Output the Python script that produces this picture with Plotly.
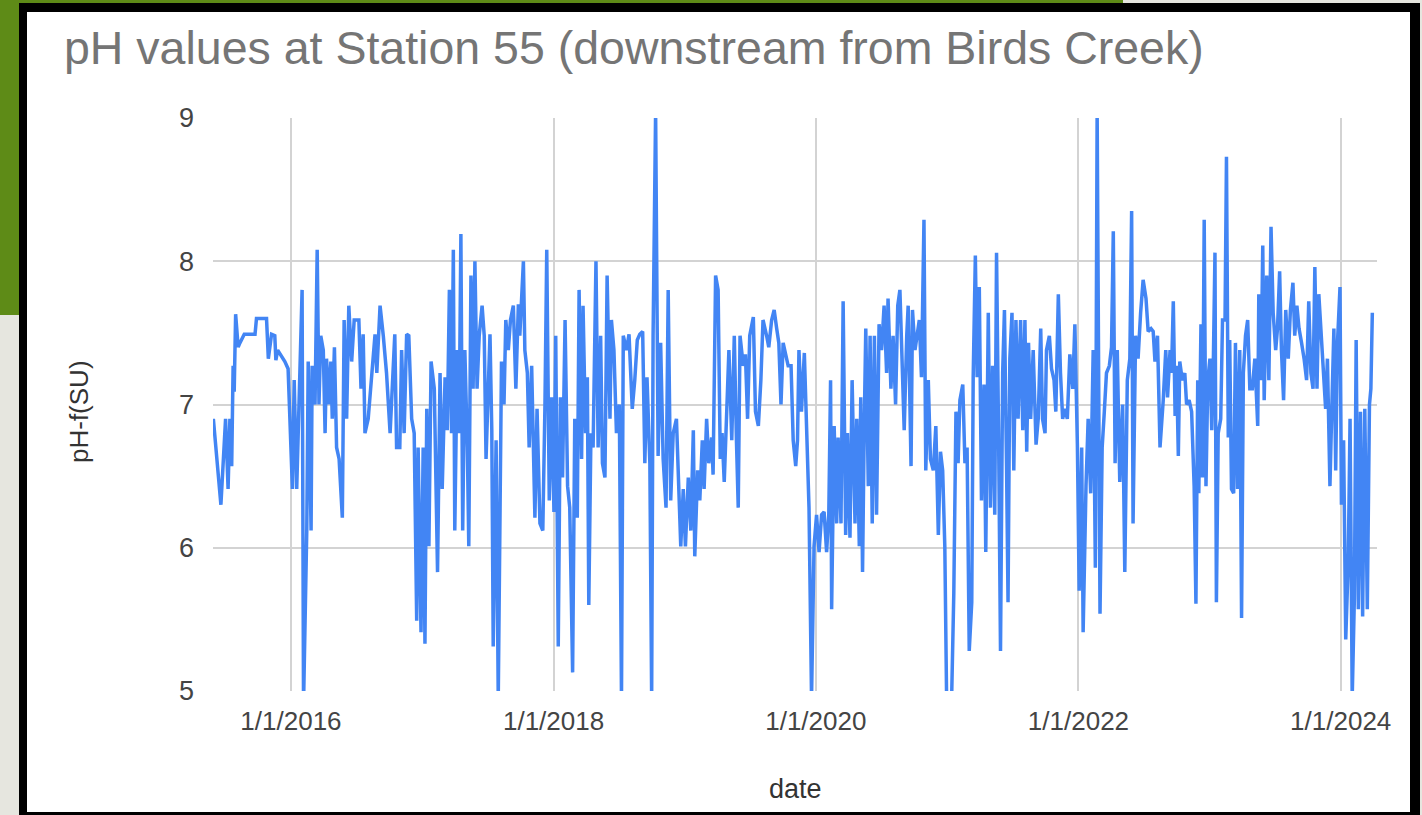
import pandas as pd
import plotly.graph_objects as go

# ---- data (ISO ordinal dates "YYYY-DDD", pH values) ----
dates_2015 = ["2015-150", "2015-171", "2015-184", "2015-191", "2015-196", "2015-201", "2015-205", "2015-208",
              "2015-212", "2015-219", "2015-224", "2015-236", "2015-266", "2015-270", "2015-298", "2015-303",
              "2015-312", "2015-321", "2015-324", "2015-329", "2015-349", "2015-358"]
ph_2015 = [6.90, 6.30, 6.90, 6.41, 6.90, 6.57, 7.27, 7.09, 7.63, 7.40, 7.43, 7.49, 7.49, 7.60, 7.60, 7.32,
           7.49, 7.48, 7.31, 7.38, 7.30, 7.25]

doy_2016 = [5, 10, 17, 26, 32, 36, 45, 49, 57, 60, 68, 74, 79, 84, 91, 96, 100, 107, 112, 116, 122, 128, 135,
            144, 149, 156, 162, 170, 177, 190, 196, 202, 207, 216, 226, 235, 240, 249, 258, 267, 277, 286, 290,
            295, 304, 309, 316, 323, 329, 337, 344, 351, 355, 363]
ph_2016 = [6.41, 7.17, 6.41, 7.22, 7.80, 4.90, 6.12, 7.30, 6.12, 7.27, 7.00, 8.08, 7.00, 7.48, 7.38, 6.80, 7.32,
           7.00, 7.30, 6.90, 7.40, 6.70, 6.62, 6.21, 7.59, 6.90, 7.69, 7.30, 7.59, 7.59, 7.11, 7.49, 6.80, 6.90,
           7.22, 7.49, 7.22, 7.69, 7.48, 7.22, 6.80, 7.38, 7.49, 6.70, 6.70, 7.38, 6.80, 7.49, 7.48, 6.90, 6.80,
           5.49, 6.70, 5.41]

doy_2017 = [3, 8, 13, 19, 25, 34, 43, 50, 56, 64, 70, 76, 82, 87, 91, 98, 103, 108, 113, 119, 126, 130, 136, 142,
            147, 153, 159, 167, 173, 178, 184, 189, 194, 198, 206, 212, 221, 228, 233, 240, 246, 254, 261, 268,
            272, 282, 286, 293, 298, 305, 314, 320, 328, 336, 342, 347, 354, 361]
ph_2017 = [6.70, 5.33, 6.97, 6.01, 7.30, 7.11, 5.83, 7.22, 6.41, 7.19, 6.82, 7.80, 6.80, 8.08, 6.12, 7.38, 6.80,
           8.19, 6.12, 7.38, 6.70, 6.01, 7.90, 7.11, 8.00, 7.11, 7.48, 7.69, 7.48, 6.62, 7.22, 7.49, 6.82, 5.31,
           6.75, 4.95, 7.30, 7.00, 7.59, 7.38, 7.59, 7.69, 7.11, 7.70, 7.48, 8.00, 7.38, 7.22, 6.70, 7.27, 6.21,
           6.97, 6.17, 6.12, 7.00, 8.08, 6.33, 7.05]

doy_2018 = [2, 7, 14, 20, 26, 33, 40, 46, 54, 60, 67, 72, 79, 83, 90, 95, 99, 105, 111, 119, 125, 132, 137, 144,
            150, 158, 162, 169, 176, 184, 190, 195, 204, 211, 220, 227, 234, 241, 249, 255, 261, 269, 274, 278,
            285, 292, 299, 306, 314, 320, 327, 334, 343, 349, 355, 362]
ph_2018 = [6.25, 7.48, 5.31, 7.05, 6.49, 7.59, 6.43, 6.28, 5.13, 6.90, 6.21, 7.80, 6.62, 7.69, 6.80, 7.19, 5.60,
           6.80, 6.70, 8.00, 6.70, 7.48, 6.59, 6.49, 7.90, 6.90, 7.59, 7.38, 6.80, 7.00, 4.95, 7.48, 7.38, 7.49,
           6.97, 7.17, 7.45, 7.49, 7.51, 6.59, 7.19, 6.59, 4.95, 7.48, 9.05, 6.64, 7.43, 6.62, 6.28, 7.80, 6.33,
           6.80, 6.90, 6.43, 6.01, 6.41]

doy_2019 = [3, 11, 18, 25, 29, 37, 43, 50, 55, 62, 68, 76, 80, 87, 94, 100, 105, 111, 118, 124, 132, 139, 145,
            150, 155, 164, 170, 176, 182, 192, 198, 206, 213, 219, 229, 235, 243, 250, 257, 263, 269, 275, 282,
            289, 297, 303, 310, 315, 319, 326, 334, 340, 347, 354, 361]
ph_2019 = [6.01, 6.49, 6.12, 6.82, 5.94, 6.54, 6.33, 6.75, 6.41, 6.90, 6.59, 6.77, 6.51, 7.90, 7.80, 6.62, 6.80,
           6.46, 6.95, 7.38, 6.75, 7.48, 6.75, 6.28, 7.48, 7.27, 7.35, 6.90, 7.48, 7.61, 6.95, 6.85, 7.17, 7.59,
           7.48, 7.40, 7.59, 7.66, 7.53, 7.43, 7.00, 7.43, 7.35, 7.27, 7.27, 6.75, 6.57, 6.75, 7.38, 6.95, 7.36,
           6.85, 6.28, 4.95, 6.01]

doy_2020 = [3, 10, 17, 24, 31, 37, 42, 45, 52, 59, 63, 71, 77, 84, 89, 96, 102, 110, 115, 122, 126, 131, 136,
            140, 147, 152, 158, 164, 170, 177, 184, 191, 198, 202, 210, 216, 223, 229, 235, 241, 247, 254, 258,
            266, 270, 277, 283, 289, 295, 302, 307, 314, 320, 328, 335, 342, 348, 354, 360, 365]
ph_2020 = [6.23, 5.97, 6.23, 6.25, 5.97, 6.23, 7.17, 5.57, 6.85, 6.17, 6.77, 6.17, 7.72, 6.09, 6.80, 6.07, 7.17,
           6.17, 6.90, 6.01, 7.05, 5.83, 6.90, 7.53, 6.43, 7.48, 6.17, 7.48, 6.23, 7.56, 7.38, 7.69, 7.22, 7.74,
           7.11, 7.48, 7.00, 7.69, 7.80, 7.22, 6.82, 7.48, 7.69, 6.57, 7.66, 7.38, 7.48, 7.59, 7.19, 8.29, 6.54,
           7.17, 6.62, 6.54, 6.85, 6.09, 6.67, 6.54, 6.01, 4.95]

doy_2021 = [13, 19, 25, 31, 36, 44, 50, 56, 62, 69, 73, 79, 84, 90, 96, 103, 108, 115, 121, 127, 133, 138, 144,
            149, 155, 160, 166, 170, 175, 181, 186, 192, 198, 205, 211, 217, 222, 227, 233, 240, 248, 254, 261,
            266, 273, 277, 285, 291, 298, 303, 310, 316, 322, 328, 335, 342, 350, 356, 363]
ph_2021 = [4.95, 5.68, 6.95, 6.59, 7.03, 7.14, 6.59, 6.70, 5.28, 5.62, 7.19, 8.04, 7.19, 7.82, 6.33, 7.14, 5.97,
           7.64, 6.28, 7.27, 6.23, 8.06, 6.70, 5.28, 7.22, 7.66, 6.54, 5.62, 7.32, 7.64, 6.54, 7.59, 6.90, 7.59,
           6.82, 7.59, 6.67, 7.43, 6.90, 7.38, 6.72, 6.90, 7.53, 6.90, 6.80, 7.38, 7.48, 7.25, 7.17, 6.95, 7.77,
           7.22, 6.90, 6.97, 6.90, 7.35, 7.11, 7.56, 6.72]

doy_2022 = [3, 10, 14, 22, 28, 35, 42, 48, 53, 61, 67, 73, 79, 87, 93, 98, 103, 109, 116, 124, 130, 137, 144,
            149, 153, 160, 167, 174, 181, 189, 195, 203, 209, 214, 221, 228, 233, 237, 244, 249, 256, 260, 265,
            270, 274, 279, 283, 290, 297, 302, 309, 316, 323, 328, 333, 336, 342, 346, 351, 356, 361]
ph_2022 = [5.70, 6.70, 5.41, 6.43, 6.90, 6.38, 7.38, 5.86, 9.05, 5.54, 6.70, 6.95, 7.22, 7.27, 7.40, 8.21, 6.59,
           7.38, 6.46, 7.00, 5.83, 7.17, 7.32, 8.35, 6.17, 7.48, 7.32, 7.64, 7.87, 7.74, 7.51, 7.53, 7.51, 7.30,
           7.48, 6.70, 6.85, 7.03, 7.38, 7.05, 7.38, 7.22, 7.72, 6.92, 7.27, 6.64, 7.30, 7.17, 7.22, 7.00, 7.03,
           6.95, 6.43, 5.61, 7.17, 6.38, 7.56, 6.49, 8.29, 6.43, 7.17]

doy_2023 = [2, 7, 11, 16, 20, 25, 32, 37, 44, 48, 53, 57, 62, 68, 73, 79, 85, 90, 95, 101, 107, 113, 120, 127,
            135, 138, 144, 149, 153, 160, 166, 172, 178, 185, 190, 196, 201, 207, 213, 220, 226, 233, 238, 244,
            250, 257, 264, 271, 277, 283, 289, 294, 300, 305, 313, 319, 324, 329, 336, 341, 347, 352, 357, 364]
ph_2023 = [7.32, 6.82, 7.22, 8.06, 5.62, 6.80, 6.90, 7.59, 7.59, 8.73, 6.77, 7.45, 6.41, 6.38, 7.43, 6.41, 7.38,
           5.51, 7.22, 7.48, 7.59, 7.11, 7.11, 7.32, 6.85, 7.77, 7.17, 8.11, 7.03, 7.90, 7.17, 8.24, 7.64, 7.38,
           7.53, 7.93, 7.38, 7.03, 7.66, 7.32, 7.66, 7.85, 7.48, 7.69, 7.53, 7.43, 7.32, 7.17, 7.72, 7.22, 7.11,
           7.96, 7.11, 7.77, 7.43, 7.27, 6.97, 7.32, 6.43, 6.95, 7.53, 6.54, 7.43, 7.82]

doy_2024 = [3, 9, 15, 22, 27, 33, 39, 44, 50, 56, 62, 68, 75, 81, 85, 89]
ph_2024 = [6.30, 6.75, 5.36, 5.91, 6.90, 4.95, 5.65, 7.45, 5.57, 6.95, 5.52, 6.97, 5.57, 7.00, 7.11, 7.64]

tick_dates = ["2016-01-01", "2018-01-01", "2020-01-01", "2022-01-01", "2024-01-01"]
tick_labels = ["1/1/2016", "1/1/2018", "1/1/2020", "1/1/2022", "1/1/2024"]
y_ticks = [5, 6, 7, 8, 9]
x_range = ["2015-05-29", "2024-04-11"]
y_range = [5, 9]

title_text = "pH values at Station 55 (downstream from Birds Creek)"
x_title = "date"
y_title = "pH-f(SU)"

# ---- assemble ----
ordinal = list(dates_2015)
values = list(ph_2015)
for year, doys, vals in [(2016, doy_2016, ph_2016), (2017, doy_2017, ph_2017), (2018, doy_2018, ph_2018),
                         (2019, doy_2019, ph_2019), (2020, doy_2020, ph_2020), (2021, doy_2021, ph_2021),
                         (2022, doy_2022, ph_2022), (2023, doy_2023, ph_2023), (2024, doy_2024, ph_2024)]:
    ordinal += [f"{year}-{d:03d}" for d in doys]
    values += vals
dates = pd.to_datetime(ordinal, format="%Y-%j")

W, H = 1422, 815
PL, PR, PT, PB = 213, 1377, 118, 691  # plot area in pixels


def fx(px):
    return (px - PL) / (PR - PL)


def fy(py):
    return (PB - py) / (PB - PT)


def rect(x0, y0, x1, y1, color):
    return dict(type="rect", xref="paper", yref="paper", x0=fx(x0), x1=fx(x1), y0=fy(y1), y1=fy(y0),
                fillcolor=color, line_width=0, layer="below")


FONT = "Liberation Sans, Arial, sans-serif"

fig = go.Figure()
fig.add_trace(go.Scatter(x=dates, y=values, mode="lines",
                         line=dict(color="#4285f4", width=3.5), hoverinfo="x+y", showlegend=False))

shapes = [
    rect(0, 0, 1123, 4, "#5e8b17"),          # green band top
    rect(0, 0, 19, 315, "#5e8b17"),          # green band left
    rect(19, 3, 1420, 816, "#000000"),       # black frame
    rect(27, 12, 1410, 812, "#ffffff"),      # white chart card
]

annotations = [
    dict(text=title_text, xref="paper", yref="paper", x=fx(62), y=fy(48), xanchor="left", yanchor="middle",
         showarrow=False, font=dict(family=FONT, size=46.5, color="#757575")),
    dict(text=y_title, xref="paper", yref="paper", x=fx(79), y=fy(412), xanchor="center", yanchor="middle",
         textangle=-90, showarrow=False, font=dict(family=FONT, size=26, color="#333333")),
    dict(text=x_title, xref="paper", yref="paper", x=fx(795), y=fy(789), xanchor="center", yanchor="middle",
         showarrow=False, font=dict(family=FONT, size=27, color="#333333")),
]

fig.update_layout(
    width=W, height=H,
    margin=dict(l=PL, r=W - PR, t=PT, b=H - PB, pad=0),
    paper_bgcolor="#e6e6df",
    plot_bgcolor="#ffffff",
    shapes=shapes,
    annotations=annotations,
    showlegend=False,
    xaxis=dict(type="date", range=x_range, tickvals=tick_dates, ticktext=tick_labels,
               showgrid=True, gridcolor="#d3d3d3", gridwidth=1.5, zeroline=False, showline=False,
               ticks="", ticklabelstandoff=12,
               tickfont=dict(family=FONT, size=26, color="#444444")),
    yaxis=dict(range=y_range, tickvals=y_ticks, showgrid=True, gridcolor="#d3d3d3", gridwidth=1.5,
               zeroline=False, showline=False, ticks="", ticklabelstandoff=18,
               tickfont=dict(family=FONT, size=27, color="#444444")),
)

fig.write_html("out.html", config={"displayModeBar": False},
               post_script="document.body.style.margin='0px';document.body.style.overflow='hidden';")
